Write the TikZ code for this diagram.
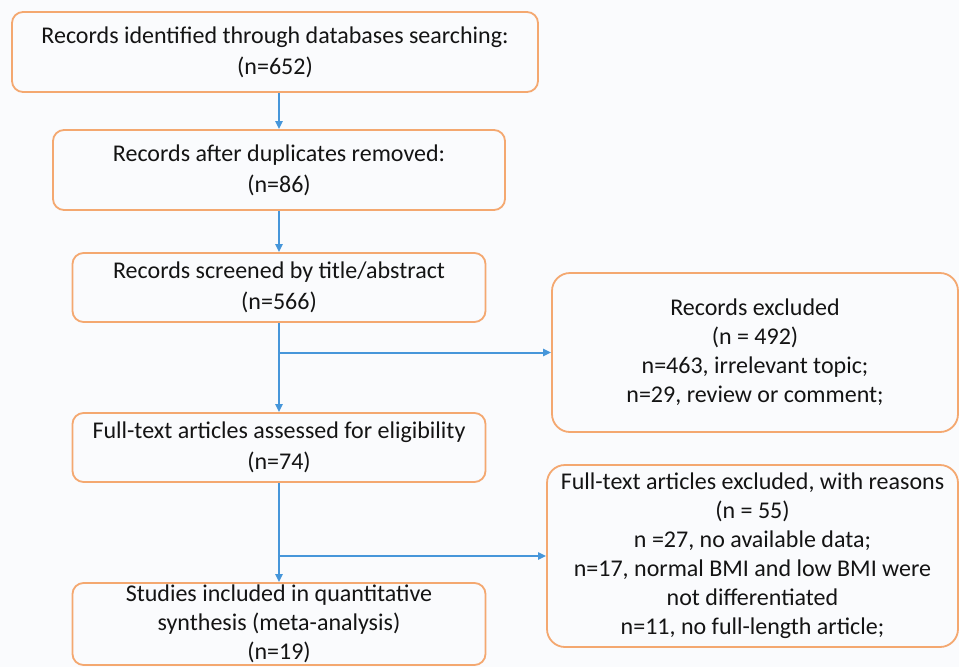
\documentclass[tikz,border=0pt]{standalone}
\usepackage{fontspec}
\setmainfont{Carlito}
\usepackage{tikz}
\usetikzlibrary{arrows.meta, positioning}
\definecolor{boxorange}{RGB}{244,168,112}
\definecolor{arrowblue}{RGB}{70,150,218}
\definecolor{pagebg}{RGB}{250,251,253}
\definecolor{inktext}{RGB}{20,20,20}

\begin{document}
\begin{tikzpicture}[x=1pt, y=-1pt, >={Triangle[length=8pt, width=7pt]},
    box/.style={draw=boxorange, line width=1.8pt, rounded corners=11pt, align=center,
      inner sep=0pt, text=inktext, font=\fontsize{24}{31}\selectfont},
    sidebox/.style={box, rounded corners=18pt, font=\fontsize{24}{29}\selectfont},
    flow/.style={->, draw=arrowblue, line width=2pt}]
        \fill[pagebg] (0,0) rectangle (959,667);
        \useasboundingbox (0,0) rectangle (959,667);

        % Nodes
        \node[box, minimum width=526pt, minimum height=80pt] (ident) at (275, 52)
            {Records identified through databases searching:\\(n=652)};
        \node[box, minimum width=452pt, minimum height=80pt] (dedup) at (279, 170)
            {Records after duplicates removed:\\(n=86)};
        \node[box, minimum width=413pt, minimum height=69pt] (screen) at (279, 287.5)
            {Records screened by title/abstract\\(n=566)};
        \node[box, minimum width=413pt, minimum height=69pt] (elig) at (279, 447.5)
            {Full-text articles assessed for eligibility\\(n=74)};
        \node[box, minimum width=413pt, minimum height=82pt,
              font=\fontsize{24}{29}\selectfont] (incl) at (279, 624)
            {Studies included in quantitative\\synthesis (meta-analysis)\\(n=19)};
        \node[sidebox, minimum width=406pt, minimum height=159pt] (excl) at (755, 352.5)
            {Records excluded\\(n = 492)\\n=463, irrelevant topic;\\n=29, review or comment;};
        \node[sidebox, minimum width=411pt, minimum height=182pt] (exclft) at (752.5, 556)
            {Full-text articles excluded, with reasons\\(n = 55)\\n =27, no available data;\\n=17, normal BMI and low BMI were\\not differentiated\\n=11, no full-length article;};

        % Directed edges
        \draw[flow] (ident.south -| dedup.north) -- (dedup.north);
        \draw[flow] (dedup) -- (screen);
        \draw[flow] (screen) -- (elig);
        \draw[flow] (screen.south |- excl.west) -- (excl.west);
        \draw[flow] (elig) -- (incl);
        \draw[flow] (elig.south |- exclft.west) -- (exclft.west);
    \end{tikzpicture}
\end{document}
